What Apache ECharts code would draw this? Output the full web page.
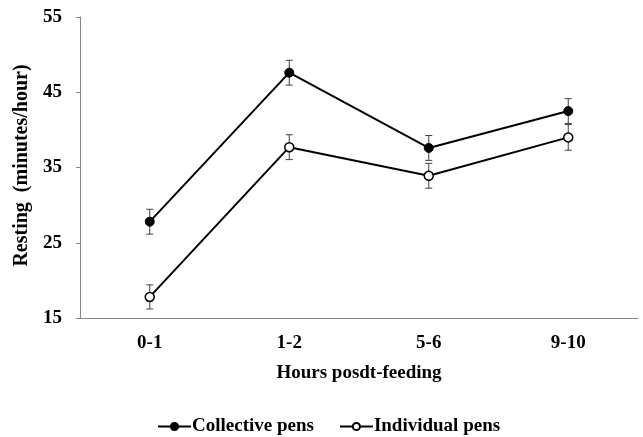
<!DOCTYPE html>
<html><head><meta charset="utf-8">
<script src="https://cdn.jsdelivr.net/npm/echarts@6/dist/echarts.min.js"></script>
<style>html,body{margin:0;padding:0;background:#fff}#c{width:643px;height:437px}</style>
</head><body><div id="c"></div>
<script>
var categories = ['0-1', '1-2', '5-6', '9-10'];
var collective = [27.8, 47.6, 37.6, 42.5];
var collectiveErr = [1.65, 1.65, 1.65, 1.65];
var individual = [17.8, 37.7, 33.9, 39.0];
var individualErr = [1.6, 1.65, 1.65, 1.7];
var yTicks = [15, 25, 35, 45, 55];

var FONT = '"Liberation Serif", "Times New Roman", serif';
var chart = echarts.init(document.getElementById('c'));

function errSeries(vals, errs, name) {
  return {
    type: 'custom',
    name: name + ' err',
    z: 1,
    silent: true,
    data: vals.map(function (v, i) { return [i, v - errs[i], v + errs[i]]; }),
    renderItem: function (params, api) {
      var lo = api.coord([api.value(0), api.value(1)]);
      var hi = api.coord([api.value(0), api.value(2)]);
      var x = lo[0], w = 3.5;
      var st = { stroke: '#404040', lineWidth: 1 };
      return { type: 'group', children: [
        { type: 'line', shape: { x1: x, y1: lo[1], x2: x, y2: hi[1] }, style: st },
        { type: 'line', shape: { x1: x - w, y1: lo[1], x2: x + w, y2: lo[1] }, style: st },
        { type: 'line', shape: { x1: x - w, y1: hi[1], x2: x + w, y2: hi[1] }, style: st }
      ]};
    },
    encode: { x: 0, y: [1, 2] }
  };
}

chart.setOption({
  animation: false,
  grid: { left: 80, right: 5, top: 17, bottom: 119 },
  xAxis: {
    type: 'category',
    data: categories,
    boundaryGap: true,
    name: 'Hours posdt-feeding',
    nameLocation: 'middle',
    nameGap: 46,
    nameTextStyle: { fontFamily: FONT, fontWeight: 'bold', fontSize: 19, color: '#000' },
    axisLine: { lineStyle: { color: '#868686', width: 1 } },
    axisTick: { alignWithLabel: true, length: 4, lineStyle: { color: '#868686' } },
    axisLabel: { fontFamily: FONT, fontWeight: 'bold', fontSize: 19, color: '#000', margin: 16 }
  },
  yAxis: {
    type: 'value',
    min: 15, max: 55, interval: 10,
    name: 'Resting  (minutes/hour)',
    nameLocation: 'middle',
    nameGap: 37,
    nameTextStyle: { fontFamily: FONT, fontWeight: 'bold', fontSize: 20, color: '#000', padding: [0, 0, 0, 4] },
    splitLine: { show: false },
    axisLine: { show: true, lineStyle: { color: '#868686', width: 1 } },
    axisTick: { show: true, length: 4, lineStyle: { color: '#868686' } },
    axisLabel: { fontFamily: FONT, fontWeight: 'bold', fontSize: 19, color: '#000', margin: 18,
      formatter: function (v) { return yTicks.indexOf(v) >= 0 ? String(v) : ''; } }
  },
  legend: {
    top: 417,
    left: 157,
    padding: 0,
    itemWidth: 33,
    itemHeight: 9,
    itemGap: 25,
    textStyle: { fontFamily: FONT, fontWeight: 'bold', fontSize: 19, color: '#000', padding: [0, 0, 0, -4] },
    data: ['Collective pens', 'Individual pens']
  },
  series: [
    errSeries(collective, collectiveErr, 'Collective pens'),
    errSeries(individual, individualErr, 'Individual pens'),
    {
      name: 'Collective pens', type: 'line', data: collective, z: 3,
      symbol: 'circle', symbolSize: 9,
      lineStyle: { color: '#000', width: 2 },
      itemStyle: { color: '#000', borderColor: '#000', borderWidth: 1 }
    },
    {
      name: 'Individual pens', type: 'line', data: individual, z: 3,
      symbol: 'circle', symbolSize: 9,
      lineStyle: { color: '#000', width: 2 },
      itemStyle: { color: '#fff', borderColor: '#000', borderWidth: 1.5 }
    }
  ]
});
</script></body></html>
